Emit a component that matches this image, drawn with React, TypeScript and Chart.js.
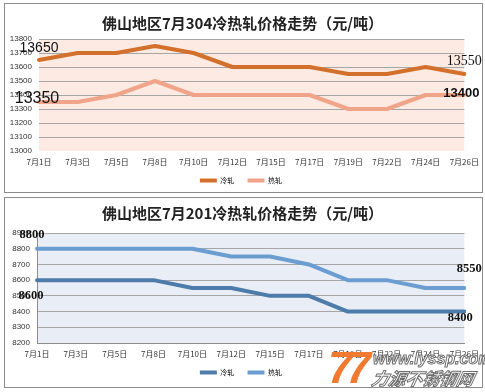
import React, { useEffect, useRef } from "react";
import { Chart, registerables } from "chart.js";

Chart.register(...registerables);

// ---------- data ----------
const categories = ["7月1日", "7月3日", "7月5日", "7月8日", "7月10日", "7月12日", "7月15日", "7月17日", "7月19日", "7月22日", "7月24日", "7月26日"];
const seriesNames = ["冷轧", "热轧"];
const cold304 = [13650, 13700, 13700, 13750, 13700, 13600, 13600, 13600, 13550, 13550, 13600, 13550];
const hot304 = [13350, 13350, 13400, 13500, 13400, 13400, 13400, 13400, 13300, 13300, 13400, 13400];
const cold201 = [8600, 8600, 8600, 8600, 8550, 8550, 8500, 8500, 8400, 8400, 8400, 8400];
const hot201 = [8800, 8800, 8800, 8800, 8800, 8750, 8750, 8700, 8600, 8600, 8550, 8550];
const title304 = "佛山地区7月304冷热轧价格走势（元/吨）";
const title201 = "佛山地区7月201冷热轧价格走势（元/吨）";
const yRange304 = [13000, 13800];
const yRange201 = [8200, 8900];
const yStep = 100;

const CJK = '"Noto Sans CJK SC", "Liberation Sans", sans-serif';
const SANS = '"Liberation Sans", Arial, sans-serif';
const SERIF = '"Liberation Serif", "Times New Roman", serif';

type LabelSpec = { ds: number; i: number; dx: number; dy: number; font: string };

type Cfg = {
  title: string;
  cold: number[];
  hot: number[];
  range: number[];
  colors: string[];
  bg: string;
  titlePad: { top: number; bottom: number };
  padBottom: number;
  xHeight: number;
  yWidth: number;
  hideBottomGrid: boolean;
  axisBorder: boolean;
  labels: LabelSpec[];
};

const cfg304: Cfg = {
  title: title304,
  cold: cold304,
  hot: hot304,
  range: yRange304,
  colors: ["#D2702C", "#F0A58A"],
  bg: "#FCEAE3",
  titlePad: { top: 14, bottom: 7 },
  padBottom: 2,
  xHeight: 16,
  yWidth: 39,
  hideBottomGrid: true,
  axisBorder: false,
  labels: [
    { ds: 0, i: 0, dx: 0, dy: -12, font: `14px ${SANS}` },
    { ds: 1, i: 0, dx: -2, dy: -3, font: `16px ${SANS}` },
    { ds: 0, i: 11, dx: 0, dy: -13, font: `14px ${SERIF}` },
    { ds: 1, i: 11, dx: -3, dy: -2, font: `bold 13px ${SANS}` },
  ],
};

const cfg201: Cfg = {
  title: title201,
  cold: cold201,
  hot: hot201,
  range: yRange201,
  colors: ["#4D7BAA", "#6B9DD0"],
  bg: "#E9EEF6",
  titlePad: { top: 8, bottom: 11 },
  padBottom: 6,
  xHeight: 16,
  yWidth: 37,
  hideBottomGrid: false,
  axisBorder: true,
  labels: [
    { ds: 1, i: 0, dx: -5, dy: -14, font: `bold 12.5px ${SERIF}` },
    { ds: 0, i: 0, dx: -6, dy: 16, font: `bold 12.5px ${SERIF}` },
    { ds: 1, i: 11, dx: 5, dy: -19, font: `bold 12.5px ${SERIF}` },
    { ds: 0, i: 11, dx: -4, dy: 6, font: `bold 12.5px ${SERIF}` },
  ],
};

const W = 485;
const H = 196;

function PriceChart({ cfg }: { cfg: Cfg }) {
  const ref = useRef<HTMLCanvasElement | null>(null);

  useEffect(() => {
    if (!ref.current) return;
    const bgPlugin = {
      id: "plotBg",
      beforeDraw(chart: any) {
        const { ctx, chartArea } = chart;
        ctx.save();
        ctx.fillStyle = cfg.bg;
        ctx.fillRect(chartArea.left, chartArea.top, chartArea.right - chartArea.left, chartArea.bottom - chartArea.top);
        ctx.restore();
      },
    };
    const labelPlugin = {
      id: "endLabels",
      afterDatasetsDraw(chart: any) {
        const { ctx } = chart;
        ctx.save();
        ctx.fillStyle = "#111";
        ctx.textAlign = "center";
        ctx.textBaseline = "middle";
        cfg.labels.forEach((l) => {
          const el = chart.getDatasetMeta(l.ds).data[l.i];
          const v = chart.data.datasets[l.ds].data[l.i];
          ctx.font = l.font;
          ctx.fillText(String(v), el.x + l.dx, el.y + l.dy);
        });
        ctx.restore();
      },
    };
    const chart = new Chart(ref.current, {
      type: "line",
      data: {
        labels: categories,
        datasets: [
          {
            label: seriesNames[0],
            data: cfg.cold,
            borderColor: cfg.colors[0],
            backgroundColor: cfg.colors[0],
            borderWidth: 4,
            pointRadius: 0,
            tension: 0,
            borderCapStyle: "round",
            borderJoinStyle: "round",
          },
          {
            label: seriesNames[1],
            data: cfg.hot,
            borderColor: cfg.colors[1],
            backgroundColor: cfg.colors[1],
            borderWidth: 4,
            pointRadius: 0,
            tension: 0,
            borderCapStyle: "round",
            borderJoinStyle: "round",
          },
        ],
      },
      options: {
        animation: false,
        responsive: false,
        maintainAspectRatio: false,
        layout: { padding: { left: 0, right: 0, top: 0, bottom: cfg.padBottom } },
        plugins: {
          title: {
            display: true,
            text: cfg.title,
            color: "#222",
            font: { size: 15, weight: "bold", family: CJK },
            padding: cfg.titlePad,
          },
          legend: {
            position: "bottom",
            labels: {
              boxWidth: 17,
              boxHeight: 4,
              padding: 10,
              color: "#333",
              font: { size: 7, family: CJK },
              generateLabels: (ch: any) =>
                ch.data.datasets.map((d: any, i: number) => ({
                  text: d.label + "  ",
                  fillStyle: d.borderColor,
                  strokeStyle: d.borderColor,
                  lineWidth: 0,
                  hidden: false,
                  datasetIndex: i,
                })),
            },
          },
          tooltip: { enabled: false },
        },
        scales: {
          x: {
            grid: { display: false, drawTicks: false },
            border: { display: cfg.axisBorder, color: "#8C8C8C" },
            ticks: { color: "#333", font: { size: 8, family: CJK }, padding: 6, maxRotation: 0, autoSkip: false },
            afterFit: (s: any) => {
              s.height = cfg.xHeight;
            },
          },
          y: {
            min: cfg.range[0],
            max: cfg.range[1],
            ticks: {
              stepSize: yStep,
              color: "#333",
              font: { size: 8, family: SANS },
              padding: 7,
              callback: (v: any) => String(v),
            },
            grid: {
              drawTicks: false,
              color: (c: any) => (cfg.hideBottomGrid && c.tick && c.tick.value === cfg.range[0] ? "rgba(0,0,0,0)" : "#A6A6A6"),
            },
            border: { display: cfg.axisBorder, color: "#8C8C8C" },
            afterFit: (s: any) => {
              s.width = cfg.yWidth;
            },
          },
          yPad: {
            position: "right",
            display: true,
            grid: { display: false, drawTicks: false },
            border: { display: false },
            ticks: { display: false },
            afterFit: (s: any) => {
              s.width = 12;
            },
          },
        },
      } as any,
      plugins: [bgPlugin, labelPlugin],
    } as any);
    return () => chart.destroy();
  }, [cfg]);

  return <canvas ref={ref} width={W} height={H} style={{ width: W, height: H, display: "block" }} />;
}

export default function App() {
  return (
    <div style={{ position: "absolute", left: 0, top: 0, width: 485, height: 392, background: "#fff", overflow: "hidden" }}>
      <div style={{ position: "absolute", left: 4, top: 3, width: 477, height: 188, border: "1px solid #8C8C8C" }} />
      <div style={{ position: "absolute", left: 4, top: 197, width: 477, height: 189, border: "1px solid #8C8C8C" }} />
      <div style={{ position: "absolute", left: 0, top: 0 }}>
        <PriceChart cfg={cfg304} />
      </div>
      <div style={{ position: "absolute", left: 0, top: 196 }}>
        <PriceChart cfg={cfg201} />
      </div>
      <div
        style={{
          position: "absolute",
          left: 328,
          top: 344,
          fontFamily: SANS,
          fontWeight: "bold",
          fontStyle: "italic",
          fontSize: 44,
          lineHeight: "48px",
          color: "#F07A30",
          letterSpacing: -6,
        }}
      >
        77
      </div>
      <div
        style={{
          position: "absolute",
          left: 373,
          top: 350,
          fontFamily: SANS,
          fontWeight: "bold",
          fontStyle: "italic",
          fontSize: 16,
          lineHeight: "18px",
          color: "#fff",
          WebkitTextStroke: "1px #6E6E6E",
          whiteSpace: "nowrap",
        }}
      >
        www.lyssp.com
      </div>
      <div
        style={{
          position: "absolute",
          left: 372,
          top: 368,
          fontFamily: CJK,
          fontWeight: "bold",
          fontStyle: "italic",
          fontSize: 17,
          lineHeight: "20px",
          color: "#fff",
          WebkitTextStroke: "1px #6E6E6E",
          whiteSpace: "nowrap",
          transform: "skewX(-12deg)",
        }}
      >
        力源不锈钢网
      </div>
    </div>
  );
}
